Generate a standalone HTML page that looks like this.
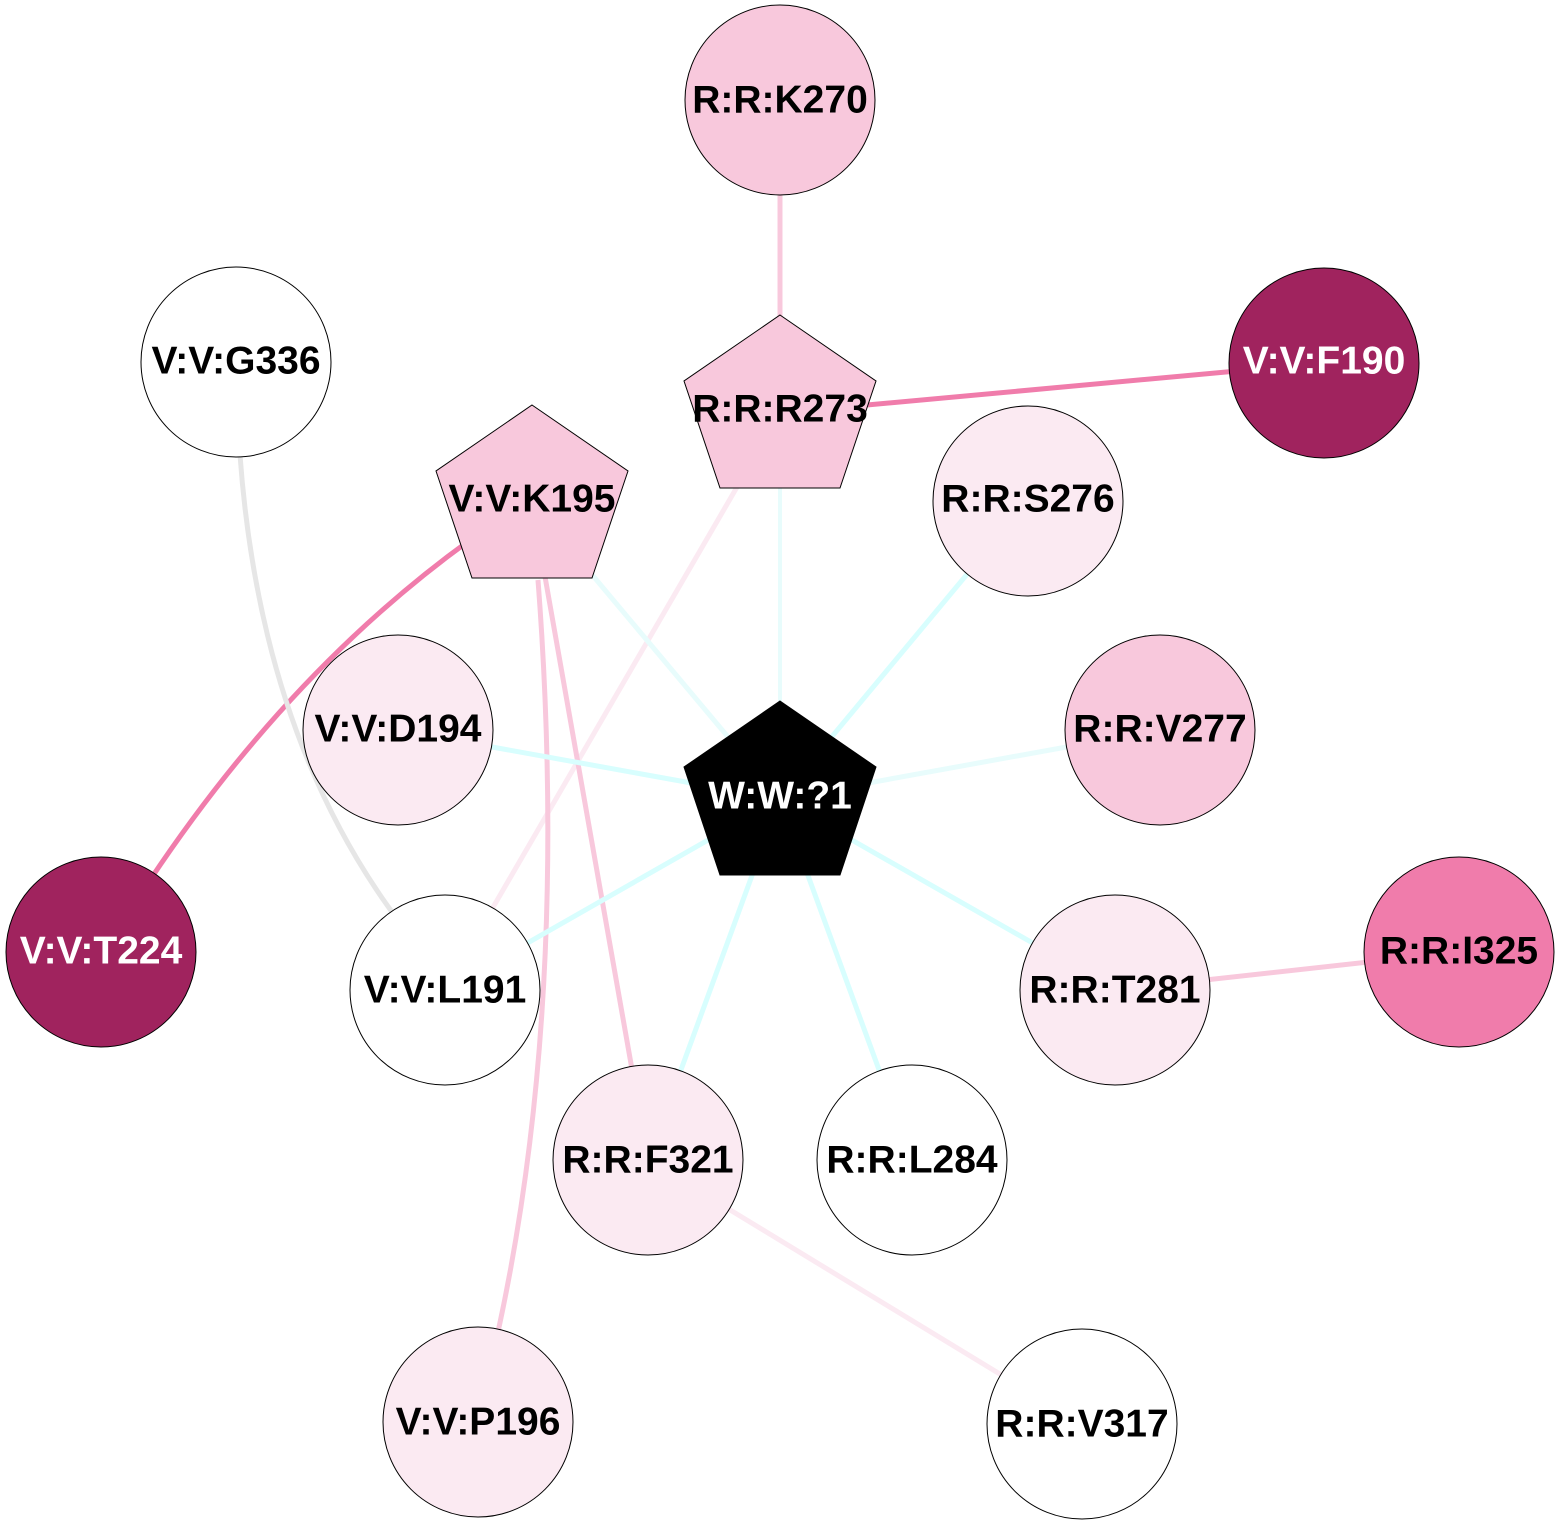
<!DOCTYPE html>
<html><head><meta charset="utf-8"><style>
html,body{margin:0;padding:0;background:#fff}
svg{display:block}
text{font-family:"Liberation Sans",Arial,sans-serif;font-weight:bold;font-size:39px;text-anchor:middle;dominant-baseline:central}
</style></head><body>
<svg width="1560" height="1526" viewBox="0 0 1560 1526" xmlns="http://www.w3.org/2000/svg">
<g fill="none" stroke-linecap="butt">
<line x1="780" y1="100" x2="780" y2="413" stroke="#f8c8dc" stroke-width="5"/>
<line x1="780" y1="413" x2="1324" y2="363" stroke="#f07cab" stroke-width="5"/>
<line x1="780" y1="413" x2="780" y2="799" stroke="#e8fcfc" stroke-width="4"/>
<line x1="780" y1="413" x2="445" y2="990" stroke="#fbeaf2" stroke-width="5"/>
<line x1="532" y1="503" x2="780" y2="799" stroke="#e8fcfc" stroke-width="5"/>
<path d="M470,540 Q290,670 150,880" stroke="#f07cab" stroke-width="5"/>
<line x1="532" y1="503" x2="648" y2="1160" stroke="#f8c8dc" stroke-width="5"/>
<path d="M538,580 Q570,1000 498,1332" stroke="#f8c8dc" stroke-width="5"/>
<path d="M240,455 Q260,730 392,912" stroke="#e6e6e6" stroke-width="5"/>
<line x1="1028" y1="501" x2="780" y2="799" stroke="#d8fefe" stroke-width="5"/>
<line x1="398" y1="730" x2="780" y2="799" stroke="#d8fefe" stroke-width="5"/>
<line x1="1160" y1="730" x2="780" y2="799" stroke="#e8fcfc" stroke-width="5"/>
<line x1="445" y1="990" x2="780" y2="799" stroke="#d8fefe" stroke-width="5"/>
<line x1="648" y1="1160" x2="780" y2="799" stroke="#d8fefe" stroke-width="5"/>
<line x1="912" y1="1160" x2="780" y2="799" stroke="#d8fefe" stroke-width="5"/>
<line x1="1115" y1="990" x2="780" y2="799" stroke="#d8fefe" stroke-width="5"/>
<line x1="1115" y1="990" x2="1459" y2="952" stroke="#f8c8dc" stroke-width="5"/>
<line x1="648" y1="1160" x2="1082" y2="1424" stroke="#fbeaf2" stroke-width="5"/>
</g>
<g stroke="#000" stroke-width="1">
<circle cx="780" cy="100" r="95" fill="#f8c8dc"/>
<circle cx="236" cy="362" r="95" fill="#fff"/>
<circle cx="1324" cy="363" r="95" fill="#a0235e"/>
<circle cx="1028" cy="501" r="95" fill="#fbeaf2"/>
<circle cx="398" cy="730" r="95" fill="#fbeaf2"/>
<circle cx="1160" cy="730" r="95" fill="#f8c8dc"/>
<circle cx="101" cy="952" r="95" fill="#a0235e"/>
<circle cx="1459" cy="952" r="95" fill="#f07cab"/>
<circle cx="445" cy="990" r="95" fill="#fff"/>
<circle cx="1115" cy="990" r="95" fill="#fbeaf2"/>
<circle cx="648" cy="1160" r="95" fill="#fbeaf2"/>
<circle cx="912" cy="1160" r="95" fill="#fff"/>
<circle cx="478" cy="1422" r="95" fill="#fbeaf2"/>
<circle cx="1082" cy="1424" r="95" fill="#fff"/>
<polygon points="780,315 876,381 840,488 720,488 684,381" fill="#f8c8dc"/>
<polygon points="532,405 628,471 592,578 472,578 436,471" fill="#f8c8dc"/>
<polygon points="780,701 876,767 840,875 720,875 684,767" fill="#000"/>
</g>
<text x="780" y="100">R:R:K270</text>
<text x="236" y="361">V:V:G336</text>
<text x="1324" y="361" fill="#fff">V:V:F190</text>
<text x="780" y="409">R:R:R273</text>
<text x="532" y="499">V:V:K195</text>
<text x="1028" y="499">R:R:S276</text>
<text x="398" y="729">V:V:D194</text>
<text x="1160" y="729">R:R:V277</text>
<text x="780" y="796" fill="#fff">W:W:?1</text>
<text x="101" y="951" fill="#fff">V:V:T224</text>
<text x="1459" y="951">R:R:I325</text>
<text x="445" y="990">V:V:L191</text>
<text x="1115" y="990">R:R:T281</text>
<text x="648" y="1160">R:R:F321</text>
<text x="912" y="1160">R:R:L284</text>
<text x="478" y="1422">V:V:P196</text>
<text x="1082" y="1424">R:R:V317</text>
</svg>
</body></html>
